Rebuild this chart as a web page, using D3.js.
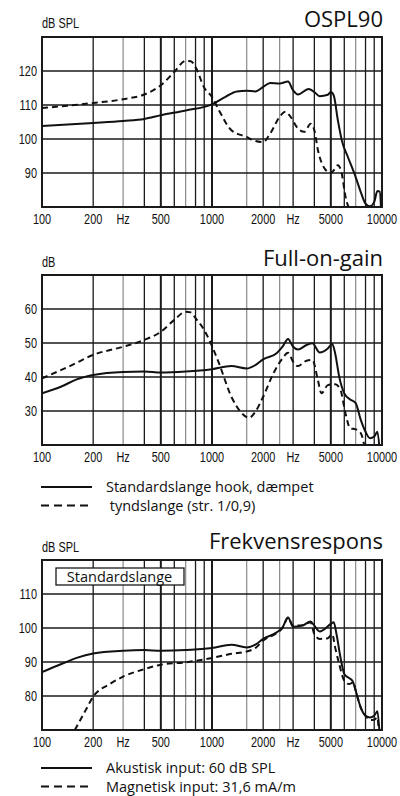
<!DOCTYPE html>
<meta charset="utf-8">
<style>
body { margin: 0; background: #fff; }
svg { display: block; }
.tick-label, .unit { font-family: "Liberation Sans", Arial, sans-serif; font-size: 14px; fill: #111; }
.title { font-family: "Open Sans", sans-serif; font-size: 22px; fill: #111; }
.legend-text { font-family: "Open Sans", sans-serif; font-size: 14.5px; fill: #111; }
</style>
<svg width="400" height="796"></svg>
<script src="https://cdnjs.cloudflare.com/ajax/libs/d3/7.8.5/d3.min.js"></script>
<script>

// x axis (shared)
var xTicks = [100, 200, 300, 500, 1000, 2000, 3000, 5000, 10000];
var xTickLabels = ["100", "200", "Hz", "500", "1000", "2000", "Hz", "5000", "10000"];
var gridFreqs = [200, 300, 400, 500, 600, 700, 800, 900, 1000, 1600, 2000, 2500, 3000, 4000, 5000, 6000, 7000, 8000, 9000];
var grayFreqs = [300, 700, 1600, 2500, 7000];
var heavyFreqs = [500, 1000, 5000];

// OSPL90
var osplSolidF = [100, 200, 300, 400, 500, 700, 1000, 1200, 1400, 1600, 1800, 2000, 2200, 2500, 2800, 3000, 3200, 3700, 4000, 4300, 4800, 5000, 5200, 5500, 5800, 6300, 7000, 7500, 8000, 8500, 9000, 9400, 9700, 9900];
var osplSolidV = [103.8, 104.7, 105.3, 105.9, 107.0, 108.4, 110.2, 112.4, 114.0, 114.2, 114.0, 115.3, 116.5, 116.3, 116.9, 114.3, 113.1, 114.7, 113.8, 112.6, 113.0, 113.8, 112.8, 105.5, 99.6, 94.7, 88.8, 84.4, 81.0, 80.2, 81.5, 84.7, 84.5, 78];
var osplDashF = [100, 200, 300, 400, 500, 600, 700, 750, 800, 900, 1000, 1100, 1300, 1600, 1800, 2000, 2200, 2500, 2700, 2900, 3200, 3500, 3800, 4000, 4200, 4600, 5000, 5300, 5500, 5800, 6100, 6400];
var osplDashV = [109.1, 110.6, 111.7, 113.1, 115.8, 119.7, 123.0, 122.9, 121.2, 115.1, 112.4, 108.4, 102.6, 100.6, 99.4, 99.1, 101.6, 106.5, 108.0, 106.5, 103.1, 102.1, 104.5, 102.6, 96.7, 91.3, 90.0, 91.3, 92.3, 89.8, 83.0, 79.6];

// Full-on-gain
var fogSolidF = [100, 130, 160, 200, 300, 400, 500, 700, 1000, 1300, 1600, 1800, 2000, 2400, 2600, 2800, 3000, 3200, 3600, 3900, 4300, 4800, 5100, 5300, 5600, 6000, 6500, 7000, 7500, 8000, 8500, 9000, 9400, 9700];
var fogSolidV = [35.2, 37.2, 39.3, 40.6, 41.5, 41.6, 41.3, 41.6, 42.3, 43.2, 42.5, 43.5, 45.2, 47.0, 48.9, 51.2, 48.9, 48.1, 49.4, 49.9, 47.2, 48.4, 49.7, 47.0, 40.1, 35.2, 33.4, 32.3, 27.4, 23.9, 22.0, 22.5, 23.9, 18];
var fogDashF = [100, 150, 200, 300, 400, 500, 600, 700, 750, 800, 900, 1000, 1100, 1300, 1500, 1650, 1800, 2000, 2300, 2600, 2800, 3000, 3200, 3600, 3900, 4200, 4400, 4800, 5300, 5700, 6100, 6500, 7000, 7500, 8000];
var fogDashV = [39.6, 43.5, 46.5, 48.9, 50.9, 53.3, 56.8, 59.2, 59.0, 57.3, 53.8, 49.1, 44.0, 34.2, 29.3, 28.0, 29.8, 34.2, 41.1, 45.5, 47.1, 44.5, 43.2, 44.8, 45.0, 39.0, 35.2, 37.6, 37.9, 36.2, 29.3, 24.9, 24.6, 23.5, 18];

// Frekvensrespons
var frSolidF = [100, 130, 160, 200, 300, 400, 500, 700, 1000, 1300, 1600, 1800, 2000, 2400, 2600, 2800, 3000, 3400, 3800, 4000, 4300, 5000, 5200, 5400, 5700, 6000, 6300, 6700, 7000, 7500, 8000, 8500, 9000, 9400, 9700];
var frSolidV = [87.0, 89.4, 91.2, 92.5, 93.3, 93.5, 93.3, 93.5, 94.1, 95.1, 94.3, 95.1, 96.8, 98.7, 100.2, 103.1, 100.4, 100.7, 101.9, 100.7, 99.0, 101.2, 101.7, 98.2, 91.3, 86.5, 85.5, 84.5, 81.6, 76.6, 74.2, 73.7, 74.2, 75.5, 68];
var frDashF = [156, 180, 200, 250, 300, 400, 500, 700, 1000, 1300, 1600, 1800, 2000, 2400, 2600, 2800, 3000, 3400, 3800, 4000, 4300, 4800, 5100, 5300, 5600, 6000, 6400, 6800, 7000, 7500, 8000, 8500, 9000, 9400, 9600];
var frDashV = [70.0, 75.7, 79.8, 83.5, 85.7, 87.9, 89.2, 89.9, 91.2, 92.4, 93.1, 94.1, 96.3, 98.5, 100.0, 103.0, 100.7, 100.8, 101.7, 98.2, 96.8, 97.0, 98.2, 94.3, 89.4, 84.5, 83.5, 84.0, 81.6, 76.6, 74.2, 72.9, 73.0, 73.7, 68];

var panels = [
  { top: 37, domain: [80, 130], yTicks: [90, 100, 110, 120], unit: "dB SPL", title: "OSPL90",
    titleY: 27, unitY: 28,
    series: [{ f: osplSolidF, v: osplSolidV, dash: false }, { f: osplDashF, v: osplDashV, dash: true }],
    legend: null },
  { top: 275, domain: [20, 70], yTicks: [30, 40, 50, 60], unit: "dB", title: "Full-on-gain",
    titleY: 266, unitY: 267, legendY: 487,
    series: [{ f: fogSolidF, v: fogSolidV, dash: false }, { f: fogDashF, v: fogDashV, dash: true }],
    legend: ["Standardslange hook, dæmpet", " tyndslange (str. 1/0,9)"] },
  { top: 560, domain: [70, 120], yTicks: [80, 90, 100, 110], unit: "dB SPL", title: "Frekvensrespons",
    titleY: 549, unitY: 552, box: "Standardslange", legendY: 768,
    series: [{ f: frSolidF, v: frSolidV, dash: false }, { f: frDashF, v: frDashV, dash: true }],
    legend: ["Akustisk input: 60 dB SPL", "Magnetisk input: 31,6 mA/m"] }
];

var svg = d3.select("svg"),
    left = 42, right = 382, plotH = 170, narrow = 0.78;

var x = d3.scaleLog().domain([100, 10000]).range([left, right]);

panels.forEach(function(p, i) {
  var bottom = p.top + plotH;
  var y = d3.scaleLinear().domain(p.domain).range([bottom, p.top]);
  var g = svg.append("g");

  g.append("clipPath").attr("id", "clip" + i)
    .append("rect").attr("x", left).attr("y", p.top).attr("width", right - left).attr("height", plotH);

  // vertical grid
  g.selectAll(".vgrid").data(gridFreqs).enter().append("line")
      .attr("x1", function(d) { return x(d); })
      .attr("x2", function(d) { return x(d); })
      .attr("y1", p.top).attr("y2", bottom)
      .attr("stroke", function(d) { return grayFreqs.indexOf(d) >= 0 ? "#8a8a8a" : "#1a1a1a"; })
      .attr("stroke-width", function(d) { return heavyFreqs.indexOf(d) >= 0 ? 2 : (grayFreqs.indexOf(d) >= 0 ? 1.2 : 1.3); });

  // horizontal grid
  g.selectAll(".hgrid").data(p.yTicks).enter().append("line")
      .attr("x1", left).attr("x2", right)
      .attr("y1", function(d) { return y(d); })
      .attr("y2", function(d) { return y(d); })
      .attr("stroke", "#1a1a1a").attr("stroke-width", 1.6);

  // frame
  g.append("rect").attr("x", left).attr("y", p.top).attr("width", right - left).attr("height", plotH)
      .attr("fill", "none").attr("stroke", "#1a1a1a").attr("stroke-width", 2);

  if (p.box) {
    g.append("rect").attr("x", 56).attr("y", p.top + 8).attr("width", 128).attr("height", 17)
        .attr("fill", "#fff").attr("stroke", "#1a1a1a").attr("stroke-width", 1.3);
    g.append("text").attr("class", "legend-text").attr("x", 119.5).attr("y", p.top + 21.5)
        .attr("text-anchor", "middle").style("font-size", "14.5px").text(p.box);
  }

  // curves
  var line = d3.line()
      .x(function(d) { return x(d[0]); })
      .y(function(d) { return y(d[1]); })
      .curve(d3.curveMonotoneX);

  p.series.forEach(function(s) {
    g.append("path")
        .datum(d3.zip(s.f, s.v))
        .attr("clip-path", "url(#clip" + i + ")")
        .attr("fill", "none")
        .attr("stroke", "#111")
        .attr("stroke-width", 2)
        .attr("stroke-dasharray", s.dash ? "6,4" : null)
        .attr("d", line);
  });

  // y labels (condensed)
  g.selectAll(".ylab").data(p.yTicks).enter().append("text")
      .attr("class", "tick-label")
      .attr("transform", function(d) { return "translate(37," + y(d) + ") scale(" + narrow + ",1)"; })
      .attr("dy", "0.36em").attr("text-anchor", "end")
      .text(function(d) { return d; });

  // x labels
  g.selectAll(".xlab").data(xTicks).enter().append("text")
      .attr("class", "tick-label")
      .attr("transform", function(d) { return "translate(" + x(d) + "," + (bottom + 17) + ") scale(" + narrow + ",1)"; })
      .attr("text-anchor", "middle")
      .text(function(d, j) { return xTickLabels[j]; });

  g.append("text").attr("class", "unit")
      .attr("transform", "translate(" + left + "," + p.unitY + ") scale(" + narrow + ",1)")
      .style("font-size", "14px").text(p.unit);
  g.append("text").attr("class", "title").attr("x", right + 1).attr("y", p.titleY)
      .attr("text-anchor", "end").text(p.title);

  if (p.legend) {
    p.legend.forEach(function(t, k) {
      var ly = p.legendY + k * 18.5;
      g.append("line").attr("x1", 41).attr("x2", 92).attr("y1", ly).attr("y2", ly)
          .attr("stroke", "#111").attr("stroke-width", 2)
          .attr("stroke-dasharray", k === 1 ? "8,5" : null);
      g.append("text").attr("class", "legend-text").attr("x", 106).attr("y", ly + 5)
          .attr("xml:space", "preserve").text(t);
    });
  }
});

</script>
